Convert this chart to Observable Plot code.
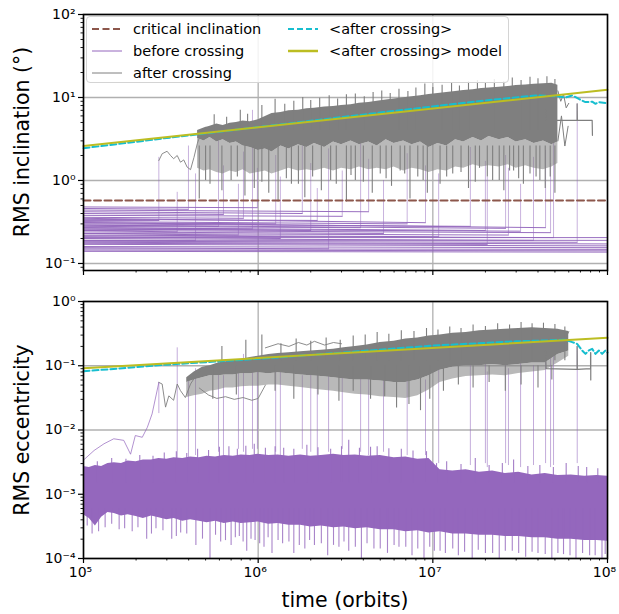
<!DOCTYPE html>
<html><head><meta charset="utf-8">
<script src="https://cdn.jsdelivr.net/npm/d3@7"></script>
<script src="https://cdn.jsdelivr.net/npm/@observablehq/plot@0.6"></script>
<style>
body{margin:0;background:#fff;font-family:"DejaVu Sans",sans-serif;}
#wrap{position:relative;width:619px;height:614px;overflow:hidden;}
#topPanel,#botPanel{position:absolute;left:0;}
#topPanel{top:0;} #botPanel{top:290px;}
.lab{position:absolute;font-size:20.5px;color:#000;white-space:nowrap;}
#legend{position:absolute;left:86px;top:16px;width:423px;height:67px;border:1px solid #d4d4d4;border-radius:4px;background:rgba(255,255,255,0.85);box-sizing:border-box;}
.li{position:absolute;height:20px;display:flex;align-items:center;font-size:14.5px;color:#000;white-space:nowrap;}
.li svg{margin-right:11px;}
</style></head><body><div id="wrap"><div id="topPanel"></div><div id="botPanel"></div></div>
<script>
// ---------------- data ----------------
const xMajor = [1e5, 1e6, 1e7, 1e8];
const yMajorTop = [0.1, 1, 10, 100];
const yMajorBot = [1e-4, 1e-3, 1e-2, 1e-1, 1];
const legendLabels = ["critical inclination", "before crossing", "after crossing", "<after crossing>", "<after crossing> model"];

// crossing runs
const crossT   = [2.70e5,3.44e5,3.99e5,4.38e5,5.93e5,6.33e5,7.71e5,8.24e5,9.28e5,9.90e5,1.26e6,1.34e6,1.79e6,2.00e6,2.18e6,2.53e6,3.03e6,3.86e6,4.29e6,5.22e6,7.13e6,9.08e6,1.08e7,1.64e7,2.00e7,2.05e7,2.61e7,2.71e7,3.18e7,3.77e7,4.42e7,4.72e7,4.91e7,6.71e7];
const incStart = [0.33,0.25,0.46,0.19,0.29,0.40,0.23,0.36,0.27,0.48,0.31,0.21,0.42,0.26,0.34,0.155,0.38,0.28,0.44,0.24,0.32,0.35,0.22,0.30,0.27,0.175,0.29,0.23,0.26,0.20,0.31,0.25,0.215,0.185];
const incEnd   = [0.33,0.24,0.45,0.19,0.28,0.39,0.22,0.35,0.26,0.47,0.30,0.20,0.40,0.25,0.33,0.15,0.37,0.27,0.42,0.23,0.30,0.31,0.21,0.28,0.25,0.17,0.265,0.22,0.245,0.19,0.27,0.235,0.205,0.18];
const incJump  = [1.9,0.72,2.6,1.2,3.0,1.5,0.9,2.2,7.0,1.4,2.0,1.1,2.6,1.6,0.8,2.4,1.3,3.2,1.8,1.0,2.1,1.5,1.2,2.5,1.7,1.1,2.0,1.4,0.9,1.9,2.3,1.6,3.5,8.4];
const eccFoot  = [0.018,0.003,0.0035,0.004,0.0045,0.004,0.005,0.0045,0.005,0.005,0.0045,0.004,0.005,0.0045,0.004,0.0045,0.005,0.0045,0.004,0.0045,0.004,0.004,0.003,0.0028,0.003,0.0026,0.003,0.0028,0.0026,0.0028,0.003,0.0026,0.0028,0.003];
const eccJump  = [0.055,0.19,0.06,0.09,0.12,0.07,0.1,0.15,0.08,0.11,0.09,0.13,0.07,0.1,0.12,0.08,0.11,0.09,0.14,0.07,0.1,0.06,0.12,0.1,0.13,0.08,0.11,0.09,0.12,0.1,0.17,0.14,0.2,0.2];
// runs that never cross
const survStart = [0.14,0.145,0.15,0.16,0.17,0.18,0.19,0.205];
const survEnd   = [0.137,0.142,0.148,0.155,0.163,0.172,0.19,0.205];

// inclination after crossing: dense gray mass (core, sparse fringe, spikes)
const grayIncT  = [4.5e5,4.9e5,5.3e5,5.8e5,6.3e5,6.9e5,7.5e5,8.2e5,9e5,1e6,1.1e6,1.2e6,1.35e6,1.5e6,1.7e6,1.9e6,2.1e6,2.4e6,2.7e6,3e6,3.4e6,3.8e6,4.3e6,4.8e6,5.4e6,6e6,6.8e6,7.6e6,8.5e6,9.5e6,1.07e7,1.2e7,1.35e7,1.5e7,1.7e7,1.9e7,2.1e7,2.4e7,2.7e7,3e7,3.4e7,3.8e7,4.3e7,4.8e7,5.2e7];
const grayIncHi = [4.0,4.3,4.5,4.8,4.6,4.9,5.0,5.2,5.1,5.4,5.9,6.4,6.6,6.9,7.0,7.3,7.4,7.7,7.8,8.0,8.2,8.5,8.7,9.0,9.3,9.6,9.9,10.2,10.5,10.9,11.2,11.5,11.8,12.1,12.4,12.8,13.0,13.3,13.6,13.9,14.1,14.4,14.6,14.8,14.0];
const grayIncLo = [3.2,3.0,3.3,2.9,3.1,2.8,2.9,2.6,2.5,2.3,2.4,2.2,2.6,2.4,2.7,2.5,2.8,2.5,2.9,2.7,3.0,2.7,2.9,2.6,3.1,2.8,3.0,2.7,2.9,2.5,2.8,2.6,3.1,2.9,3.3,3.0,3.4,3.1,3.3,2.9,3.1,2.8,3.0,2.7,2.9];
const grayIncOuterLo = [1.4,1.3,1.35,1.25,1.2,1.3,1.25,1.35,1.2,1.25,1.3,1.2,1.3,1.4,1.3,1.35,1.3,1.4,1.3,1.4,1.35,1.45,1.35,1.4,1.35,1.45,1.3,1.4,1.35,1.25,1.35,1.3,1.45,1.4,1.55,1.45,1.5,1.45,1.55,1.4,1.5,1.4,1.35,1.45,1.6];
const spikeIncT   = [4.6e5,5.3e5,6.2e5,7.0e5,8.4e5,9.5e5,1.15e6,1.3e6,1.55e6,1.85e6,2.05e6,2.3e6,2.8e6,3.2e6,3.6e6,4.5e6,5.0e6,5.8e6,6.5e6,7.4e6,8.2e6,9.3e6,1.1e7,1.3e7,1.6e7,1.85e7,2.2e7,2.55e7,2.9e7,3.3e7,3.9e7,4.4e7,5.0e7,
                     5.0e5,7.6e5,1.05e6,1.45e6,1.7e6,2.6e6,3.4e6,4.0e6,5.4e6,6.9e6,8.8e6,1.2e7,1.45e7,1.75e7,2.05e7,2.4e7,2.75e7,3.1e7,3.6e7,4.1e7,4.7e7];
const spikeIncMin = [0.6,0.9,0.75,1.0,0.65,0.8,0.7,0.55,0.9,0.62,1.1,0.75,0.9,0.55,1.0,0.7,1.2,0.85,1.3,0.6,1.1,0.7,0.9,1.2,0.8,1.4,1.0,0.75,1.3,0.9,1.1,0.8,0.7,
                     1.0,1.1,0.95,1.05,0.9,1.0,1.15,0.95,1.05,1.2,1.0,1.1,1.25,0.95,1.1,1.0,1.3,1.05,1.2,1.0,1.1];
const upIncT   = [5.6e5,6.6e5,7.9e5,8.7e5,1.05e6,1.25e6,1.42e6,1.6e6,1.8e6,2.0e6,2.25e6,2.55e6,2.85e6,3.2e6,3.6e6,4.05e6,4.55e6,5.1e6,5.7e6,6.4e6,7.2e6,8.0e6,9.0e6,1.0e7,1.13e7,1.28e7,1.42e7,1.6e7,1.8e7,2.0e7,2.25e7,2.55e7,2.85e7,3.2e7,3.6e7,4.0e7,4.5e7,5.0e7];
const upIncMax = [6.2,5.8,7.0,6.3,8.0,9.5,8.3,9.0,10.0,9.2,9.8,10.5,9.6,10.8,11.0,10.2,11.5,12.0,11.2,12.6,11.8,13.0,14.5,13.2,14.0,15.2,13.8,15.5,16.0,14.8,16.5,15.6,17.2,16.0,17.5,16.8,17.8,16.5];
const earlyGrayIncT = [2.70e5,2.82e5,3.01e5,3.15e5,3.28e5,3.44e5,3.59e5,3.75e5,3.92e5,4.10e5,4.29e5,4.48e5,4.68e5,4.99e5];
const earlyGrayIncV = [1.74,2.1,2.25,2.0,1.83,2.0,1.66,1.77,1.45,1.35,1.9,2.77,3.65,4.4];
const lateIncAT = [5.2e7,5.4e7,5.6e7,5.8e7,6.0e7];
const lateIncAV = [12,9,11,7.5,8.5];
const lateIncBT = [5.2e7,5.45e7,5.7e7,5.95e7];
const lateIncBV = [3.0,6.0,2.6,4.5];
const stepIncT = [4.42e7,4.45e7,6.7e7,6.7e7,6.72e7,8.17e7,8.2e7];
const stepIncV = [7.0,5.3,5.3,8.4,5.3,5.3,3.5];

// mean and model curves
const critT = [1e5, 1e8];
const critInc = [0.573, 0.573];
const cyanIncT = [1e5,3e5,1e6,3e6,1e7,2e7,3.87e7,5.26e7,5.74e7,6.28e7,6.85e7,7.48e7,8.17e7,8.54e7,8.92e7,9.73e7,1e8];
const cyanIncV = [2.45,3.25,4.4,5.8,7.8,9.2,10.6,10.3,10.0,10.6,9.6,8.8,8.9,8.4,8.8,8.6,8.7];
const modelT = [1e5, 1e8];
const modelInc = [2.6, 12.4];
const cyanEccT = [1e5,3e5,1e6,3e6,1e7,3e7,5.74e7,6.28e7,6.7e7,7.16e7,7.48e7,7.82e7,8.17e7,8.54e7,8.92e7,9.32e7,9.73e7,1e8];
const cyanEccV = [0.082,0.104,0.128,0.16,0.206,0.24,0.253,0.233,0.219,0.173,0.153,0.173,0.183,0.153,0.173,0.153,0.173,0.16];
const modelEcc = [0.0916, 0.272];

// eccentricity before crossing: dense purple band
const bandT  = [1e5,1.08e5,1.17e5,1.27e5,1.38e5,1.5e5,1.65e5,1.8e5,2e5,2.2e5,2.45e5,2.7e5,3e5,3.3e5,3.7e5,4.1e5,4.6e5,5.1e5,5.7e5,6.4e5,7.2e5,8e5,9e5,1e6,1.15e6,1.3e6,1.5e6,1.75e6,2e6,2.3e6,2.7e6,3.1e6,3.6e6,4.2e6,5e6,6e6,7e6,8.2e6,9.5e6,1.1e7,1.3e7,1.55e7,1.85e7,2.2e7,2.6e7,3.1e7,3.7e7,4.4e7,5.2e7,6.2e7,7.4e7,8.7e7,1e8];
const bandHi = [2.7e-3,2.6e-3,2.8e-3,2.7e-3,3.0e-3,3.1e-3,3.0e-3,3.3e-3,3.2e-3,3.4e-3,3.4e-3,3.6e-3,3.5e-3,3.7e-3,3.6e-3,3.8e-3,3.7e-3,3.9e-3,3.8e-3,4.0e-3,3.9e-3,4.1e-3,4.0e-3,4.2e-3,4.0e-3,4.1e-3,3.9e-3,4.1e-3,3.9e-3,4.0e-3,4.2e-3,4.0e-3,4.1e-3,3.9e-3,4.0e-3,3.7e-3,3.8e-3,3.5e-3,3.6e-3,2.4e-3,2.3e-3,2.4e-3,2.2e-3,2.3e-3,2.1e-3,2.2e-3,2.0e-3,2.1e-3,1.95e-3,2.0e-3,1.9e-3,1.95e-3,1.9e-3];
const bandLo = [4.8e-4,4.2e-4,3.2e-4,4.4e-4,5.2e-4,5.0e-4,4.6e-4,4.8e-4,4.5e-4,4.2e-4,4.6e-4,4.3e-4,4.0e-4,4.2e-4,3.8e-4,4.0e-4,3.8e-4,3.6e-4,3.8e-4,3.5e-4,3.7e-4,3.5e-4,3.6e-4,3.7e-4,3.4e-4,3.5e-4,3.3e-4,3.3e-4,3.1e-4,3.2e-4,3.0e-4,3.1e-4,2.9e-4,3.0e-4,2.8e-4,2.8e-4,2.6e-4,2.7e-4,2.5e-4,2.6e-4,2.4e-4,2.4e-4,2.3e-4,2.3e-4,2.2e-4,2.2e-4,2.1e-4,2.1e-4,2.0e-4,2.0e-4,1.9e-4,1.9e-4,1.85e-4];
const bandSpikeT   = [1.12e5,1.33e5,1.6e5,1.9e5,2.3e5,2.6e5,3.2e5,3.6e5,4.4e5,5.3e5,6.1e5,7e5,7.8e5,8.6e5,9.6e5,1.08e6,1.2e6,1.38e6,1.6e6,1.85e6,2.1e6,2.5e6,2.9e6,3.3e6,3.9e6,4.6e6,5.5e6,6.4e6,7.6e6,8.9e6,1.02e7,1.18e7,1.4e7,1.68e7,2.0e7,2.4e7,2.85e7,3.4e7,4.0e7,4.8e7,5.6e7,6.6e7,7.9e7,9.3e7,
                      1.05e5,1.22e5,1.45e5,1.72e5,2.05e5,2.45e5,2.85e5,3.4e5,3.9e5,4.8e5,5.7e5,6.5e5,7.4e5,8.2e5,9.1e5,1.02e6,1.14e6,1.3e6,1.5e6,1.72e6,1.97e6,2.3e6,2.7e6,3.1e6,3.6e6,4.2e6,5.0e6,6.0e6,7.0e6,8.2e6,9.6e6,1.1e7,1.3e7,1.52e7,1.82e7,2.2e7,2.6e7,3.1e7,3.7e7,4.4e7,5.2e7,6.1e7,7.2e7,8.5e7,9.7e7];
const bandSpikeMin = [2.4e-4,3.0e-4,2.8e-4,2.6e-4,2.0e-4,2.9e-4,2.0e-4,2.5e-4,1.6e-4,1.0e-4,1.8e-4,1.6e-4,2.2e-4,1.3e-4,1.9e-4,1.5e-4,1.2e-4,1.7e-4,1.2e-4,1.4e-4,1.6e-4,1.1e-4,1.5e-4,1.3e-4,1.0e-4,1.4e-4,1.2e-4,1.5e-4,1.1e-4,1.0e-4,1.3e-4,1.2e-4,1.1e-4,1.0e-4,1.2e-4,1.0e-4,1.3e-4,1.05e-4,1.2e-4,1.0e-4,1.15e-4,1.0e-4,1.1e-4,1.0e-4,
                      3.2e-4,2.6e-4,3.4e-4,2.9e-4,3.0e-4,2.4e-4,2.7e-4,2.2e-4,2.4e-4,2.0e-4,2.3e-4,1.9e-4,2.1e-4,1.8e-4,2.0e-4,1.7e-4,2.1e-4,1.9e-4,1.8e-4,1.6e-4,1.9e-4,1.7e-4,1.6e-4,1.8e-4,1.5e-4,1.7e-4,1.4e-4,1.6e-4,1.5e-4,1.4e-4,1.5e-4,1.3e-4,1.4e-4,1.25e-4,1.35e-4,1.2e-4,1.3e-4,1.2e-4,1.25e-4,1.15e-4,1.2e-4,1.1e-4,1.2e-4,1.1e-4,1.15e-4];
const bandUpT   = [1.2e5,1.45e5,1.75e5,2.1e5,2.5e5,2.9e5,3.4e5,3.9e5,4.5e5,5.2e5,6e5,6.8e5,7.6e5,8.5e5,9.5e5,1.1e6,1.25e6,1.4e6,1.6e6,1.9e6,2.2e6,2.6e6,3.0e6,3.3e6,3.8e6,4.4e6,4.8e6,5.6e6,6.6e6,7.7e6,9.2e6,1.05e7,1.2e7,1.45e7,1.75e7,2.1e7,2.5e7,2.9e7,3.5e7,4.1e7,4.9e7,5.8e7,6.8e7,7.6e7,8.8e7];
const bandUpMax = [3.2e-3,3.6e-3,3.5e-3,4.0e-3,3.9e-3,4.4e-3,4.6e-3,4.3e-3,5.0e-3,4.8e-3,5.4e-3,5.5e-3,5.0e-3,5.6e-3,6.0e-3,5.2e-3,5.5e-3,5.2e-3,5.0e-3,5.8e-3,5.3e-3,5.0e-3,5.5e-3,6.9e-3,5.2e-3,5.4e-3,5.5e-3,5.1e-3,5.0e-3,4.7e-3,4.6e-3,3.0e-3,3.2e-3,2.9e-3,3.6e-3,2.8e-3,3.0e-3,3.4e-3,2.7e-3,2.8e-3,2.6e-3,3.0e-3,2.7e-3,2.6e-3,2.5e-3];
const risingT = [1.0e5,1.15e5,1.31e5,1.49e5,1.70e5,1.86e5,1.98e5,2.17e5,2.32e5,2.47e5,2.70e5];
const risingV = [3.4e-3,4.8e-3,6.1e-3,7.3e-3,6.9e-3,4.2e-3,8.2e-3,7.7e-3,0.011,0.0178,0.055];

// eccentricity after crossing
const grayEccT  = [3.9e5,4.3e5,4.8e5,5.3e5,5.9e5,6.5e5,7.2e5,8e5,9e5,1e6,1.15e6,1.3e6,1.5e6,1.75e6,2e6,2.3e6,2.7e6,3.1e6,3.6e6,4.2e6,5e6,6e6,7e6,8.2e6,9.5e6,1.1e7,1.3e7,1.55e7,1.85e7,2.2e7,2.6e7,3.1e7,3.7e7,4.4e7,5.2e7,6e7];
const grayEccHi = [0.065,0.08,0.095,0.1,0.11,0.115,0.12,0.125,0.135,0.14,0.15,0.155,0.16,0.165,0.17,0.175,0.18,0.19,0.2,0.21,0.23,0.24,0.26,0.27,0.29,0.3,0.32,0.33,0.35,0.36,0.37,0.38,0.39,0.38,0.37,0.34];
const grayEccLo = [0.055,0.06,0.065,0.07,0.07,0.072,0.072,0.075,0.075,0.078,0.075,0.078,0.075,0.072,0.07,0.068,0.065,0.062,0.06,0.06,0.058,0.055,0.055,0.06,0.07,0.085,0.095,0.1,0.1,0.105,0.1,0.105,0.11,0.11,0.15,0.17];
const grayEccOuterLo = [0.032,0.034,0.036,0.04,0.042,0.045,0.045,0.047,0.048,0.048,0.05,0.05,0.048,0.046,0.044,0.042,0.04,0.038,0.036,0.035,0.033,0.032,0.031,0.034,0.042,0.055,0.062,0.068,0.07,0.072,0.07,0.076,0.08,0.084,0.11,0.14];
const spikeEccT   = [5.5e5,7.5e5,1.25e6,1.6e6,2.2e6,2.9e6,3.5e6,4.4e6,5.3e6,6.2e6,7.3e6,8.5e6,9.6e6,1.15e7,1.4e7,1.7e7,2.1e7,2.6e7,3.2e7,4e7,4.8e7];
const spikeEccMin = [0.03,0.035,0.04,0.03,0.035,0.028,0.04,0.03,0.033,0.022,0.025,0.02,0.03,0.04,0.05,0.045,0.055,0.04,0.05,0.045,0.06];
const upEccT   = [6.2e5,8.5e5,1.05e6,1.35e6,1.65e6,2.0e6,2.45e6,2.95e6,3.5e6,4.1e6,4.8e6,5.6e6,6.6e6,7.8e6,9.2e6,1.07e7,1.25e7,1.45e7,1.7e7,2.0e7,2.35e7,2.75e7,3.2e7,3.7e7,4.3e7,5.0e7,5.7e7];
const upEccMax = [0.2,0.25,0.3,0.22,0.26,0.24,0.27,0.25,0.29,0.3,0.33,0.31,0.35,0.34,0.38,0.36,0.4,0.38,0.43,0.41,0.45,0.43,0.47,0.45,0.46,0.44,0.4];
const earlyGrayEccT = [2.70e5,2.82e5,2.95e5,3.08e5,3.28e5,3.44e5,3.59e5,3.83e5,4.1e5,4.48e5,5.1e5];
const earlyGrayEccV = [0.055,0.052,0.0227,0.034,0.029,0.052,0.041,0.032,0.052,0.075,0.095];
const lowGrayT = [4.6e5,5.2e5,5.8e5,6.5e5,7.3e5,8.2e5,9.2e5,1.0e6,1.1e6];
const lowGrayV = [0.045,0.035,0.031,0.033,0.030,0.032,0.029,0.031,0.05];
const waveT = [1.1e6,1.3e6,1.5e6,1.7e6,1.9e6,2.1e6,2.4e6,2.7e6,3e6];
const waveV = [0.19,0.22,0.2,0.23,0.21,0.24,0.21,0.23,0.22];
const lateEccT = [5.2e7,5.5e7,5.8e7,6.0e7];
const lateEccV = [0.3,0.36,0.28,0.34];
const stepEccT = [4.42e7,4.45e7,6.7e7,6.7e7,6.72e7,8.0e7,8.0e7,8.02e7,8.02e7];
const stepEccV = [0.17,0.09,0.088,0.2,0.088,0.09,0.16,0.16,0.06];

// ---------------- helpers ----------------
const purple = "#9467bd", gray = "#7f7f7f", cyan = "#17becf", olive = "#bcbd22", brown = "#8c564b", gridC = "#b0b0b0";
const supMap = {"-":"⁻","0":"⁰","1":"¹","2":"²","3":"³","4":"⁴","5":"⁵","6":"⁶","7":"⁷","8":"⁸","9":"⁹"};
const sup = v => "10" + String(Math.round(Math.log10(v))).split("").map(c => supMap[c]).join("");
const series = (ts, vs) => ts.map((t, i) => ({t, v: vs[i]}));
const env = (ts, lo, hi) => ts.map((t, i) => ({t, lo: lo[i], hi: hi[i]}));
const rules = (ts, lo, hi) => ts.map((t, i) => ({t, lo: Array.isArray(lo) ? lo[i] : lo, hi: Array.isArray(hi) ? hi[i] : hi}));
const minorOf = decs => decs.flatMap(d => [2,3,4,5,6,7,8,9].map(k => k * d));
const xMinor = minorOf([1e5, 1e6, 1e7]);
const yMinorTop = [0.09, ...minorOf([0.1, 1, 10])];
const yMinorBot = minorOf([1e-4, 1e-3, 1e-2, 1e-1]);

const beforeInc = [];
crossT.forEach((t, i) => beforeInc.push({run: i, t: 1e5, v: incStart[i]}, {run: i, t, v: incEnd[i]}));
survStart.forEach((s, j) => beforeInc.push({run: 100 + j, t: 1e5, v: s}, {run: 100 + j, t: 1e8, v: survEnd[j]}));
const jumpsInc = crossT.map((t, i) => ({t, y1: incEnd[i], y2: incJump[i]}));
const jumpsEcc = crossT.map((t, i) => ({t, y1: eccFoot[i], y2: eccJump[i]}));

const common = {
  width: 619, marginLeft: 83, marginRight: 12,
  x: {type: "log", domain: [1e5, 1e8]},
  style: {fontFamily: "DejaVu Sans, sans-serif", fontSize: "14px", background: "transparent", color: "#000", overflow: "visible"}
};
const gridMarks = (ym) => [
  Plot.gridX(xMajor, {stroke: gridC, strokeOpacity: 1, strokeWidth: 1.3}),
  Plot.gridY(ym, {stroke: gridC, strokeOpacity: 1, strokeWidth: 1.3})
];
const axisMarks = (ym, yMin, labelX) => [
  Plot.axisY({ticks: ym, tickSize: 5, tickPadding: 3, tickFormat: sup, label: null, strokeWidth: 1.2}),
  Plot.axisY({ticks: yMin, tickSize: 2.5, tickFormat: () => "", label: null, strokeWidth: 0.9}),
  Plot.axisX({ticks: xMajor, tickSize: 5, tickFormat: () => "", label: null, strokeWidth: 1.2}),
  ...(labelX ? [Plot.axisX({ticks: xMajor, tickSize: 0, tickPadding: 9, tickFormat: sup, label: null, dx: -3})] : []),
  Plot.axisX({ticks: xMinor, tickSize: 2.5, tickFormat: () => "", label: null, strokeWidth: 0.9}),
  Plot.frame({stroke: "#000", strokeWidth: 1.6})
];
const rl = {x: "t", y1: "lo", y2: "hi"};

// ---------------- top panel ----------------
const topChart = Plot.plot({
  ...common, height: 290, marginTop: 14, marginBottom: 20,
  y: {type: "log", domain: [0.0823, 100]},
  marks: [
    ...gridMarks(yMajorTop),
    Plot.line(beforeInc, {x: "t", y: "v", z: "run", stroke: purple, strokeWidth: 1, strokeOpacity: 0.95}),
    Plot.ruleX(jumpsInc, {x: "t", y1: "y1", y2: "y2", stroke: purple, strokeWidth: 1, strokeOpacity: 0.5}),
    Plot.areaY(env(grayIncT, grayIncOuterLo, grayIncLo), {x: "t", y1: "lo", y2: "hi", fill: gray, fillOpacity: 0.55}),
    Plot.areaY(env(grayIncT, grayIncLo, grayIncHi), {x: "t", y1: "lo", y2: "hi", fill: gray, fillOpacity: 1}),
    Plot.ruleX(rules(spikeIncT, spikeIncMin, 2.6), {...rl, stroke: gray, strokeWidth: 1.1}),
    Plot.ruleX(rules(upIncT, 4, upIncMax), {...rl, stroke: gray, strokeWidth: 1.1}),
    Plot.line(series(earlyGrayIncT, earlyGrayIncV), {x: "t", y: "v", stroke: gray, strokeWidth: 0.9}),
    Plot.line(series(lateIncAT, lateIncAV), {x: "t", y: "v", stroke: gray, strokeWidth: 1}),
    Plot.line(series(lateIncBT, lateIncBV), {x: "t", y: "v", stroke: gray, strokeWidth: 1}),
    Plot.line(series(stepIncT, stepIncV), {x: "t", y: "v", stroke: gray, strokeWidth: 1.2}),
    Plot.line(series(critT, critInc), {x: "t", y: "v", stroke: brown, strokeWidth: 2, strokeDasharray: "7,3.5"}),
    Plot.line(series(cyanIncT, cyanIncV), {x: "t", y: "v", stroke: cyan, strokeWidth: 2, strokeDasharray: "6,3"}),
    Plot.line(series(modelT, modelInc), {x: "t", y: "v", stroke: olive, strokeWidth: 2}),
    ...axisMarks(yMajorTop, yMinorTop, false)
  ]
});
document.getElementById("topPanel").appendChild(topChart);

// ---------------- bottom panel ----------------
const botChart = Plot.plot({
  ...common, height: 324, marginTop: 11, marginBottom: 56,
  y: {type: "log", domain: [1e-4, 1]},
  marks: [
    ...gridMarks(yMajorBot),
    Plot.ruleX(jumpsEcc, {x: "t", y1: "y1", y2: "y2", stroke: purple, strokeWidth: 1, strokeOpacity: 0.55}),
    Plot.line(series(risingT, risingV), {x: "t", y: "v", stroke: purple, strokeWidth: 0.9, strokeOpacity: 0.8}),
    Plot.areaY(env(bandT, bandLo, bandHi), {x: "t", y1: "lo", y2: "hi", fill: purple}),
    Plot.ruleX(rules(bandSpikeT, bandSpikeMin, 6e-4), {...rl, stroke: purple, strokeWidth: 1.1, strokeOpacity: 0.8}),
    Plot.ruleX(rules(bandUpT, 1.5e-3, bandUpMax), {...rl, stroke: purple, strokeWidth: 1.1, strokeOpacity: 0.85}),
    Plot.areaY(env(grayEccT, grayEccOuterLo, grayEccLo), {x: "t", y1: "lo", y2: "hi", fill: gray, fillOpacity: 0.55}),
    Plot.areaY(env(grayEccT, grayEccLo, grayEccHi), {x: "t", y1: "lo", y2: "hi", fill: gray, fillOpacity: 1}),
    Plot.ruleX(rules(spikeEccT, spikeEccMin, 0.1), {...rl, stroke: gray, strokeWidth: 1.1}),
    Plot.ruleX(rules(upEccT, 0.12, upEccMax), {...rl, stroke: gray, strokeWidth: 1.1}),
    Plot.line(series(earlyGrayEccT, earlyGrayEccV), {x: "t", y: "v", stroke: gray, strokeWidth: 0.9}),
    Plot.line(series(lowGrayT, lowGrayV), {x: "t", y: "v", stroke: gray, strokeWidth: 0.9}),
    Plot.line(series(waveT, waveV), {x: "t", y: "v", stroke: gray, strokeWidth: 0.9}),
    Plot.line(series(lateEccT, lateEccV), {x: "t", y: "v", stroke: gray, strokeWidth: 1}),
    Plot.line(series(stepEccT, stepEccV), {x: "t", y: "v", stroke: gray, strokeWidth: 1.2}),
    Plot.line(series(cyanEccT, cyanEccV), {x: "t", y: "v", stroke: cyan, strokeWidth: 2, strokeDasharray: "6,3"}),
    Plot.line(series(modelT, modelEcc), {x: "t", y: "v", stroke: olive, strokeWidth: 2}),
    ...axisMarks(yMajorBot, yMinorBot, true)
  ]
});
document.getElementById("botPanel").appendChild(botChart);

// ---------------- labels & legend ----------------
const wrap = document.getElementById("wrap");
function label(text, cx, cy, rot) {
  const d = document.createElement("div");
  d.className = "lab"; d.textContent = text;
  d.style.left = cx + "px"; d.style.top = cy + "px";
  d.style.transform = "translate(-50%,-50%)" + (rot ? " rotate(-90deg)" : "");
  wrap.appendChild(d);
}
label("RMS inclination (°)", 22, 142, true);
label("RMS eccentricity", 22, 430, true);
label("time (orbits)", 345, 600, false);

const lg = document.createElement("div"); lg.id = "legend"; wrap.appendChild(lg);
const handles = [
  {c: brown, w: 2, dash: "7,3.5"}, {c: purple, w: 1, dash: null}, {c: gray, w: 1, dash: null},
  {c: cyan, w: 2, dash: "6,3"}, {c: olive, w: 2.5, dash: null}
];
const pos = [[5, 2], [5, 24], [5, 46], [201, 2], [201, 24]];
legendLabels.forEach((txt, i) => {
  const it = document.createElement("div"); it.className = "li";
  it.style.left = pos[i][0] + "px"; it.style.top = pos[i][1] + "px";
  const h = handles[i];
  it.innerHTML = `<svg width="30" height="10"><line x1="0" x2="30" y1="5" y2="5" stroke="${h.c}" stroke-width="${h.w}" ${h.dash ? `stroke-dasharray="${h.dash}"` : ""}/></svg>`;
  const s = document.createElement("span"); s.textContent = txt; it.appendChild(s);
  lg.appendChild(it);
});
</script></body></html>
